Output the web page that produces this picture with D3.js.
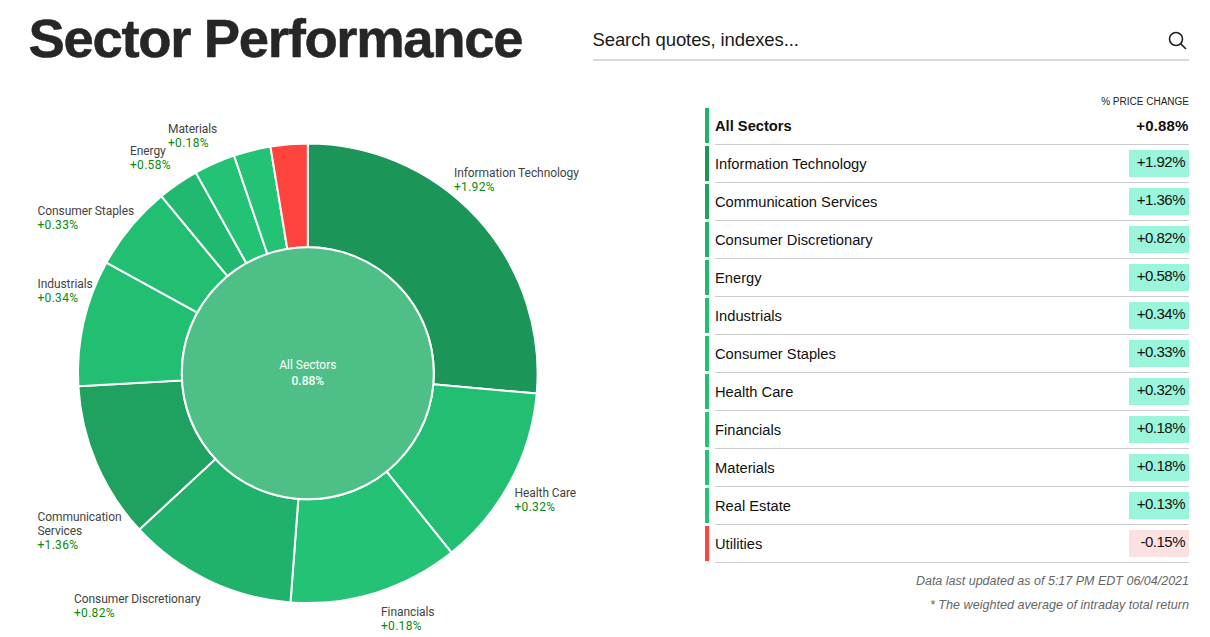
<!DOCTYPE html>
<html><head><meta charset="utf-8">
<script src="https://cdn.jsdelivr.net/npm/d3@7/dist/d3.min.js"></script>
<style>
html,body{margin:0;padding:0;background:#fff;overflow:hidden}
svg{display:block}
text{font-family:"Liberation Sans",Arial,sans-serif}
.lab{font-family:Roboto,sans-serif;font-size:12px}
</style></head><body>
<svg id="c" width="1210" height="637"></svg>
<script>
// Ring, clockwise from 12 o'clock
const ringSectors = ["Information Technology","Health Care","Financials","Consumer Discretionary","Communication Services","Industrials","Consumer Staples","Energy","Materials","Real Estate","Utilities"];
const ringWeights = [26.4,12.85,11.95,11.9,11.0,8.9,6.0,2.9,2.9,2.6,2.6];
// Table, top to bottom
const tableSectors = ["Information Technology","Communication Services","Consumer Discretionary","Energy","Industrials","Consumer Staples","Health Care","Financials","Materials","Real Estate","Utilities"];
const tableChanges = [1.92,1.36,0.82,0.58,0.34,0.33,0.32,0.18,0.18,0.13,-0.15];
const allSectorsName = "All Sectors";
const allSectorsChange = 0.88;

const fmt = v => (v < 0 ? "-" : "+") + Math.abs(v).toFixed(2);
const changeOf = n => tableChanges[tableSectors.indexOf(n)];
const colorFor = d3.scaleThreshold()
  .domain([0,0.25,0.45,0.7,1.0,1.6])
  .range(["#ff433d","#23c275","#22bf72","#21b96f","#20b16b","#1fa160","#1c9559"]);

const svg = d3.select("#c");

// Header
svg.append("text").attr("x",28.5).attr("y",57).attr("font-size",54.5).attr("font-weight",700).attr("fill","#262626").attr("stroke","#262626").attr("stroke-width",0.5).attr("letter-spacing",-1.35).text("Sector Performance");
svg.append("text").attr("x",592.5).attr("y",46).attr("font-size",18.5).attr("fill","#1a1a1a").attr("letter-spacing",-0.1).text("Search quotes, indexes...");
svg.append("line").attr("x1",593).attr("x2",1189).attr("y1",60).attr("y2",60).attr("stroke","#ccc").attr("stroke-width",1.5);
const icon = svg.append("g").attr("fill","none").attr("stroke","#222").attr("stroke-width",1.6);
icon.append("circle").attr("cx",1176).attr("cy",39).attr("r",6.5);
icon.append("line").attr("x1",1180.6).attr("y1",43.6).attr("x2",1186).attr("y2",49);

// Sunburst
const cx = 307.8, cy = 373.3, R = 229.8, r0 = 126;
const pie = d3.pie().sort(null).value(d => d.w);
const arc = d3.arc().innerRadius(r0).outerRadius(R);
const ring = ringSectors.map((n,i) => ({n, w:ringWeights[i]}));
const g = svg.append("g").attr("transform",`translate(${cx},${cy})`);
g.selectAll("path").data(pie(ring)).join("path")
  .attr("d",arc).attr("fill",d => colorFor(changeOf(d.data.n)))
  .attr("stroke","#fff").attr("stroke-width",2);
g.append("circle").attr("r",r0).attr("fill","#4dbf87").attr("stroke","#fff").attr("stroke-width",2);
g.append("text").attr("text-anchor","middle").attr("y",-4).attr("class","lab").attr("fill","#fff").text(allSectorsName);
g.append("text").attr("text-anchor","middle").attr("y",12).attr("class","lab").attr("font-weight",500).attr("fill","#fff").text(allSectorsChange.toFixed(2)+"%");

// Ring labels (annotation placement)
const labelPlacement = [
  {n:"Information Technology",x:454,y:177,lines:["Information Technology"]},
  {n:"Health Care",x:514.5,y:497,lines:["Health Care"]},
  {n:"Financials",x:381,y:616,lines:["Financials"]},
  {n:"Consumer Discretionary",x:74,y:603,lines:["Consumer Discretionary"]},
  {n:"Communication Services",x:37.5,y:521,lines:["Communication","Services"]},
  {n:"Industrials",x:37.5,y:288,lines:["Industrials"]},
  {n:"Consumer Staples",x:37.5,y:215,lines:["Consumer Staples"]},
  {n:"Energy",x:130,y:155,lines:["Energy"]},
  {n:"Materials",x:168,y:133,lines:["Materials"]}
];
labelPlacement.forEach(p => {
  const t = svg.append("text").attr("class","lab").attr("x",p.x).attr("y",p.y);
  p.lines.forEach((l,i) => t.append("tspan").attr("x",p.x).attr("dy",i?14:0).attr("fill","#444").attr("letter-spacing",-0.08).text(l));
  t.append("tspan").attr("x",p.x).attr("dy",14).attr("fill","#0a8a0a").attr("letter-spacing",0.3).text(fmt(changeOf(p.n))+"%");
});

// Table
const rowY = d3.scalePoint().domain([allSectorsName,...tableSectors]).range([144.5,562.5]);
svg.append("text").attr("x",1189).attr("y",105).attr("text-anchor","end").attr("font-size",10).attr("fill","#222").text("% PRICE CHANGE");
const rows = [{n:allSectorsName,v:allSectorsChange,top:true},...tableSectors.map((n,i)=>({n,v:tableChanges[i]}))];
const row = svg.selectAll("g.row").data(rows).join("g").attr("class","row").attr("transform",d=>`translate(0,${rowY(d.n)})`);
row.append("rect").attr("x",705).attr("width",4).attr("y",-36.5).attr("height",35).attr("fill",d=>d.top?"#20b16b":colorFor(d.v));
row.append("line").attr("x1",715).attr("x2",1189).attr("y1",0).attr("y2",0).attr("stroke","#ccc").attr("stroke-width",1);
row.filter(d=>!d.top).append("rect").attr("x",1129).attr("width",60).attr("y",-32.5).attr("height",27)
  .attr("fill",d=>d.v<0?"#fde0e0":"#9af5da");
row.append("text").attr("x",715).attr("y",-14).attr("font-size",14.7).attr("fill","#111")
  .attr("font-weight",d=>d.top?700:400).text(d=>d.n);
row.append("text").attr("x",d=>d.top?1188.5:1185).attr("y",d=>d.top?-14:-16).attr("text-anchor","end").attr("font-size",15).attr("fill","#111")
  .attr("letter-spacing",d=>d.top?0.15:-0.5).attr("font-weight",d=>d.top?700:400).text(d=>fmt(d.v)+"%");

// Footnotes
svg.append("text").attr("x",1189).attr("y",585).attr("text-anchor","end").attr("font-size",12.5).attr("font-style","italic").attr("fill","#666").text("Data last updated as of 5:17 PM EDT 06/04/2021");
svg.append("text").attr("x",1189).attr("y",609).attr("text-anchor","end").attr("font-size",12.6).attr("font-style","italic").attr("fill","#666").text("* The weighted average of intraday total return");
</script>
</body></html>
